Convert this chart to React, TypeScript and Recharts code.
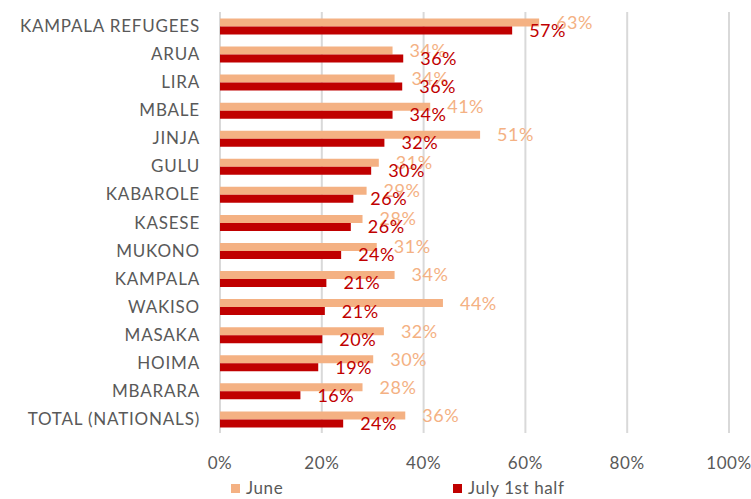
import React from 'react';
import { BarChart, Bar, XAxis, YAxis, CartesianGrid, Legend, LabelList } from 'recharts';

const categories = [
  'KAMPALA REFUGEES', 'ARUA', 'LIRA', 'MBALE', 'JINJA', 'GULU', 'KABAROLE', 'KASESE',
  'MUKONO', 'KAMPALA', 'WAKISO', 'MASAKA', 'HOIMA', 'MBARARA', 'TOTAL (NATIONALS)',
];
const juneValues = [62.7, 33.9, 34.3, 41.3, 51.1, 31.2, 28.8, 28.0, 30.8, 34.3, 43.8, 32.2, 30.1, 28.0, 36.4];
const julyValues = [57.4, 36.0, 35.8, 33.9, 32.3, 29.7, 26.2, 25.7, 23.8, 20.9, 20.6, 20.1, 19.3, 15.8, 24.2];
const xTicks = [0, 20, 40, 60, 80, 100];
const seriesOrder = ['June', 'July 1st half'];

const data = categories.map((name, i) => ({ name, june: juneValues[i], july: julyValues[i] }));

const FONT = 'Lato, "Open Sans", sans-serif';
const TEXT = '#595959';
const JUNE = '#F4B183';
const JULY = '#C00000';

const pct = (v: number) => `${Math.round(v)}%`;

const LegendContent = (props: any) => {
  const payload = [...(props.payload || [])].sort(
    (a: any, b: any) => seriesOrder.indexOf(a.value) - seriesOrder.indexOf(b.value)
  );
  return (
    <div style={{ position: 'relative', height: 24, width: 751, fontFamily: FONT }}>
      {payload.map((p: any, i: number) => (
        <div
          key={i}
          style={{
            position: 'absolute',
            left: i === 0 ? 231 : 453,
            top: 3,
            height: 20,
            lineHeight: '20px',
            display: 'flex',
            alignItems: 'center',
            fontSize: 17,
            letterSpacing: 0.6,
            color: TEXT,
            whiteSpace: 'nowrap',
          }}
        >
          <span style={{ display: 'inline-block', width: 9, height: 9, background: p.color, marginRight: 6 }} />
          <span>{p.value}</span>
        </div>
      ))}
    </div>
  );
};

export default function App() {
  return (
    <div style={{ position: 'absolute', left: 0, top: 0, width: 751, height: 499, background: '#fff' }}>
      <BarChart
        width={751}
        height={499}
        data={data}
        layout="vertical"
        margin={{ top: 12, right: 22, left: 0, bottom: 0 }}
        barCategoryGap="23%"
        barGap={0}
      >
        <CartesianGrid vertical horizontal={false} stroke="#d9d9d9" strokeWidth={2} />
        <XAxis
          type="number"
          domain={[0, 100]}
          ticks={xTicks}
          tickFormatter={(v: number) => `${v}%`}
          axisLine={false}
          tickLine={false}
          height={42}
          tickMargin={18}
          tick={{ fill: TEXT, fontSize: 17, fontFamily: FONT, letterSpacing: 0.6 }}
          interval={0}
        />
        <YAxis
          type="category"
          dataKey="name"
          width={220}
          axisLine={false}
          tickLine={false}
          tickMargin={14}
          interval={0}
          tick={{ fill: TEXT, fontSize: 17, fontFamily: FONT, letterSpacing: 0.8 }}
        />
        <Legend verticalAlign="bottom" height={24} content={<LegendContent />} wrapperStyle={{ left: 0, width: 751 }} />
        <Bar dataKey="june" name="June" fill={JUNE} isAnimationActive={false}>
          <LabelList
            dataKey="june"
            position="right"
            offset={17}
            formatter={(v: number) => pct(v)}
            style={{ fill: JUNE, fontSize: 18, fontFamily: FONT, letterSpacing: 0.5 }}
          />
        </Bar>
        <Bar dataKey="july" name="July 1st half" fill={JULY} isAnimationActive={false}>
          <LabelList
            dataKey="july"
            position="right"
            offset={17}
            formatter={(v: number) => pct(v)}
            style={{ fill: JULY, fontSize: 18, fontFamily: FONT, letterSpacing: 0.5 }}
          />
        </Bar>
      </BarChart>
    </div>
  );
}
